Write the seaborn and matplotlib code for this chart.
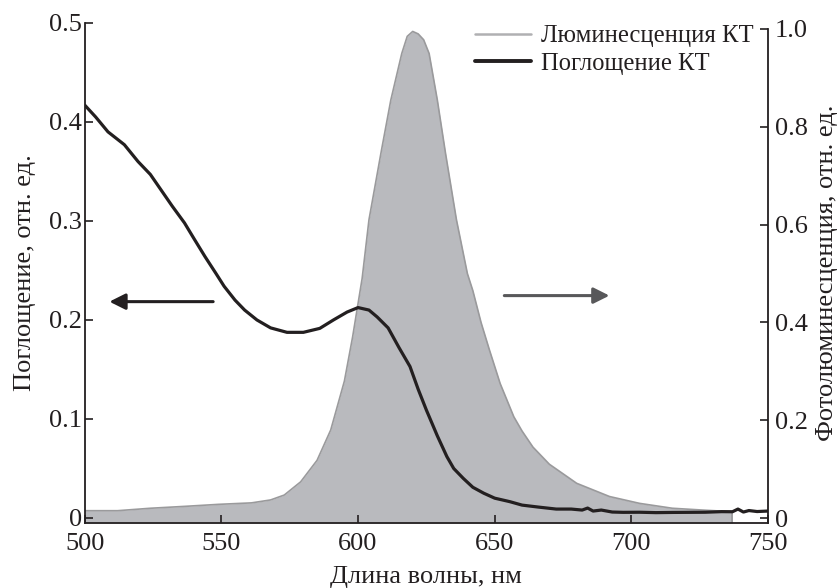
import numpy as np
import pandas as pd
import seaborn as sns
import matplotlib.pyplot as plt
from matplotlib.lines import Line2D

# спектр люминесценции КТ (правая ось)
lum_wl = [500, 512, 524, 537, 549, 561, 568, 573, 579, 585, 590, 595, 598, 601.5, 604,
          608.5, 612, 616, 618, 620, 622, 624, 626, 629, 632, 636, 640, 642, 645, 648,
          652, 657, 660, 664, 670, 680, 692, 703, 715, 727, 737]
lum = [0.015, 0.015, 0.020, 0.024, 0.028, 0.031, 0.037, 0.047, 0.074, 0.118, 0.18, 0.28,
       0.37, 0.49, 0.61, 0.75, 0.855, 0.95, 0.985, 0.995, 0.99, 0.978, 0.95, 0.855, 0.746,
       0.61, 0.50, 0.465, 0.40, 0.345, 0.275, 0.207, 0.178, 0.145, 0.11, 0.071, 0.044,
       0.030, 0.020, 0.016, 0.013]

# спектр поглощения КТ (левая ось)
abs_wl = [500, 504, 508.5, 514.5, 519.5, 524, 528, 532, 536.5, 540, 544, 548, 551, 555,
          558.5, 563, 568, 574, 580, 586, 591, 596, 600, 604, 607, 611, 615, 619, 622, 625,
          629, 632.5, 635, 638.5, 642, 646, 650, 655.5, 660, 666, 672.5, 678, 682, 684, 686,
          689, 693, 697, 703, 709, 715, 721, 727, 733, 737, 739, 741, 743, 746, 750]
absorb = [0.417, 0.405, 0.390, 0.377, 0.360, 0.347, 0.331, 0.315, 0.298, 0.282, 0.264,
          0.247, 0.234, 0.220, 0.210, 0.200, 0.192, 0.1875, 0.1875, 0.1915, 0.200, 0.208,
          0.2125, 0.210, 0.203, 0.192, 0.172, 0.153, 0.130, 0.109, 0.083, 0.062, 0.050,
          0.040, 0.031, 0.025, 0.020, 0.0165, 0.013, 0.011, 0.009, 0.009, 0.008, 0.010,
          0.007, 0.008, 0.006, 0.0057, 0.0058, 0.0054, 0.0056, 0.0057, 0.0058, 0.0064,
          0.0063, 0.009, 0.006, 0.0075, 0.0065, 0.007]

x_ticks = [500, 550, 600, 650, 700, 750]
left_ticks = [0, 0.1, 0.2, 0.3, 0.4, 0.5]
left_labels = ['0', '0.1', '0.2', '0.3', '0.4', '0.5']
right_ticks = [0, 0.2, 0.4, 0.6, 0.8, 1.0]
right_labels = ['0', '0.2', '0.4', '0.6', '0.8', '1.0']

df_lum = pd.DataFrame({'wl': lum_wl, 'lum': lum})
df_abs = pd.DataFrame({'wl': abs_wl, 'abs': absorb})

sns.set_style('ticks')
plt.rcParams['font.family'] = ['Liberation Serif', 'DejaVu Serif']
ink = '#231f20'
plt.rcParams['text.color'] = ink
plt.rcParams['axes.labelcolor'] = ink
plt.rcParams['xtick.color'] = ink
plt.rcParams['ytick.color'] = ink

fig, ax1 = plt.subplots(figsize=(8.39, 5.88), dpi=100)
fig.subplots_adjust(left=0.101, right=0.9154, bottom=0.1105, top=0.961)
ax2 = ax1.twinx()

# люминесценция - серая заливка
ax2.set_ylim(-0.0102, 1.0124)
bottom = ax2.get_ylim()[0]
ax2.fill_between(df_lum['wl'], bottom, df_lum['lum'], color='#b9babe', lw=0)
sns.lineplot(data=df_lum, x='wl', y='lum', ax=ax2, color='#9a9a9c', lw=1.2)
ax2.plot([lum_wl[-1], lum_wl[-1]], [bottom, lum[-1]], color='#9a9a9c', lw=1.2)

# поглощение - черная линия, поверх заливки
ax1.set_zorder(ax2.get_zorder() + 1)
ax1.patch.set_visible(False)
sns.lineplot(data=df_abs, x='wl', y='abs', ax=ax1, color=ink, lw=2.3)

ax1.set_xlim(500, 750)
ax1.set_ylim(-0.0051, 0.5)
ax1.set_xticks(x_ticks)
ax1.set_xticklabels([str(t) for t in x_ticks])
ax1.set_yticks(left_ticks)
ax1.set_yticklabels(left_labels)
ax2.set_yticks(right_ticks)
ax2.set_yticklabels(right_labels)

for ax in (ax1, ax2):
    ax.tick_params(direction='in', length=6, width=1.2, labelsize=19)
    for s in ax.spines.values():
        s.set_linewidth(1.3)
        s.set_color(ink)
ax1.tick_params(axis='y', pad=2)
ax1.tick_params(axis='x', pad=7)
ax2.tick_params(axis='y', pad=5)

ax1.spines['top'].set_visible(False)
ax1.spines['right'].set_visible(False)
ax2.spines['top'].set_visible(False)
ax2.spines['left'].set_visible(False)
ax2.spines['bottom'].set_visible(False)
ax2.spines['right'].set_bounds(bottom, 1.0)

ax1.set_xlabel('Длина волны, нм', fontsize=19, labelpad=8)
ax1.set_ylabel('Поглощение, отн. ед.', fontsize=19, labelpad=9)
ax2.set_ylabel('Фотолюминесценция, отн. ед.', fontsize=19, labelpad=6)

# стрелки к осям
ax1.annotate('', xy=(508, 0.2185), xytext=(548, 0.2185),
             arrowprops=dict(arrowstyle='-|>', color=ink, lw=2.2, mutation_scale=24))
ax1.annotate('', xy=(693, 0.2246), xytext=(652.5, 0.2246),
             arrowprops=dict(arrowstyle='-|>', color='#58585a', lw=2.2, mutation_scale=24))

handles = [Line2D([], [], color='#b0b0b2', lw=1.8),
           Line2D([], [], color=ink, lw=2.8)]
ax1.legend(handles, ['Люминесценция КТ', 'Поглощение КТ'], loc='upper right',
           bbox_to_anchor=(0.997, 1.02), frameon=False, fontsize=17.7,
           handlelength=2.3, handletextpad=0.4, labelspacing=0.2, borderaxespad=0.1)

plt.savefig('out.png', dpi=100)
